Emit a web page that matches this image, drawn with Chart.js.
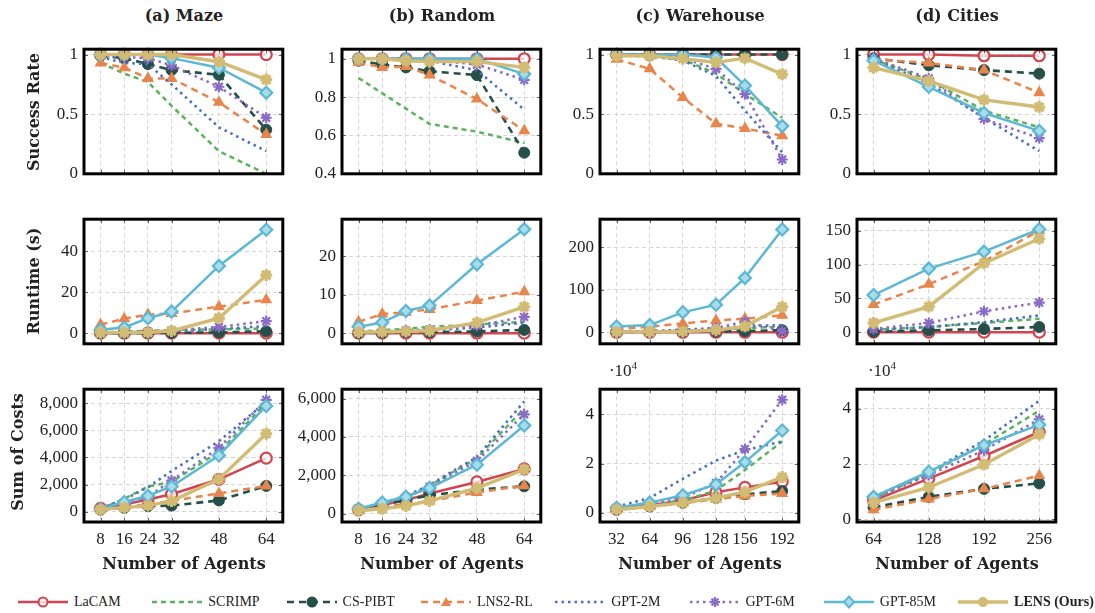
<!DOCTYPE html>
<html>
<head>
<meta charset="utf-8">
<script src="https://cdn.jsdelivr.net/npm/chart.js@4"></script>
<style>
body { margin: 0; background: #fff; width: 1095px; height: 613px; position: relative; overflow: hidden; font-family: 'Liberation Serif', serif; color: #222; }
canvas { position: absolute; }
.lbl { position: absolute; font-family: 'DejaVu Serif', serif; font-weight: bold; font-size: 16px; white-space: nowrap; transform: translate(-50%, -50%); }
.rot { transform: translate(-50%, -50%) rotate(-90deg); }
.exp { position: absolute; font-size: 17px; transform: translate(-50%, -50%); white-space: nowrap; }
.leg { position: absolute; top: 594px; height: 16px; display: flex; align-items: center; font-size: 14px; white-space: nowrap; }
.leg svg { margin-right: 6px; }
</style>
</head>
<body>
<script>
// methods, in the order of the legend
var methods = ["LaCAM", "SCRIMP", "CS-PIBT", "LNS2-RL", "GPT-2M", "GPT-6M", "GPT-85M", "LENS (Ours)"];

var agentsMaze = [8, 16, 24, 32, 48, 64];
var agentsRandom = [8, 16, 24, 32, 48, 64];
var agentsWarehouse = [32, 64, 96, 128, 156, 192];
var agentsCities = [64, 128, 192, 256];

// success rate (one row per method)
var successMaze = [
  [1, 1, 1, 1, 1, 1],
  [0.93, 0.84, 0.77, 0.57, 0.19, 0.0],
  [0.99, 0.97, 0.92, 0.87, 0.83, 0.37],
  [0.93, 0.89, 0.80, 0.80, 0.60, 0.33],
  [0.98, 0.93, 0.92, 0.75, 0.39, 0.19],
  [0.99, 0.98, 0.97, 0.91, 0.73, 0.47],
  [1, 1, 1, 0.97, 0.89, 0.68],
  [1, 1, 1, 1, 0.94, 0.79]
];
var successRandom = [
  [1, 1, 1, 1, 1, 1],
  [0.90, 0.82, 0.74, 0.66, 0.62, 0.56],
  [0.99, 0.97, 0.955, 0.935, 0.915, 0.51],
  [0.98, 0.955, 0.96, 0.915, 0.79, 0.625],
  [1, 1, 1, 0.99, 0.94, 0.735],
  [1, 1, 1, 0.995, 0.97, 0.89],
  [1, 1, 1, 1, 1, 0.92],
  [1, 1, 0.99, 0.985, 0.985, 0.955]
];
var successWarehouse = [
  [1, 1, 1, 1, 1, 1],
  [1, 0.98, 0.96, 0.84, 0.67, 0.47],
  [1, 1, 1, 1, 1, 1],
  [0.96, 0.88, 0.64, 0.42, 0.38, 0.32],
  [1, 0.99, 0.95, 0.82, 0.53, 0.18],
  [1, 1, 0.97, 0.88, 0.67, 0.12],
  [1, 1, 1, 0.975, 0.74, 0.40],
  [0.99, 0.99, 0.965, 0.935, 0.97, 0.835]
];
var successCities = [
  [1, 1, 0.99, 0.99],
  [0.96, 0.79, 0.53, 0.39],
  [0.97, 0.91, 0.87, 0.84],
  [0.96, 0.93, 0.87, 0.68],
  [0.96, 0.76, 0.47, 0.19],
  [0.97, 0.80, 0.46, 0.30],
  [0.95, 0.73, 0.51, 0.36],
  [0.89, 0.78, 0.62, 0.56]
];

// runtime in seconds
var runtimeMaze = [
  [0.1, 0.1, 0.1, 0.1, 0.1, 0.1],
  [0.5, 0.9, 1.3, 1.6, 2.0, 2.3],
  [0.1, 0.1, 0.2, 0.3, 0.5, 1.0],
  [4.3, 7.1, 9.2, 9.7, 13.0, 16.3],
  [0.2, 0.4, 0.6, 1.0, 2.0, 3.6],
  [0.3, 0.5, 0.8, 1.5, 3.1, 6.0],
  [1.8, 2.9, 7.4, 10.6, 32.8, 50.4],
  [0.3, 0.4, 0.5, 1.2, 7.4, 28.3]
];
var runtimeRandom = [
  [0.05, 0.05, 0.05, 0.05, 0.05, 0.05],
  [0.5, 0.8, 1.2, 1.7, 2.3, 3.0],
  [0.1, 0.2, 0.3, 0.3, 0.5, 0.9],
  [3.0, 5.0, 5.5, 6.2, 8.5, 10.8],
  [0.2, 0.3, 0.6, 0.8, 1.5, 2.8],
  [0.2, 0.4, 0.8, 1.0, 2.0, 4.3],
  [1.7, 2.8, 5.8, 7.2, 17.9, 27.0],
  [0.3, 0.4, 0.5, 0.7, 2.8, 6.9]
];
var runtimeWarehouse = [
  [0.2, 0.2, 0.2, 0.2, 0.2, 0.2],
  [1, 2, 4, 6, 10, 13],
  [0.5, 1, 1.5, 2, 3, 5],
  [8, 13, 21, 28, 32, 40],
  [1, 3, 6, 10, 14, 17],
  [1, 2, 4, 10, 25, 3],
  [13.7, 17, 47, 65, 128, 242],
  [1, 1, 2, 5, 14, 60]
];
var runtimeCities = [
  [0.3, 0.3, 0.3, 0.3],
  [4, 8, 14, 20],
  [1, 3, 5, 8],
  [41, 71, 105, 150],
  [3, 8, 15, 25],
  [5, 14, 31, 44],
  [55, 94, 119, 152],
  [14, 38, 102, 138]
];

// sum of costs
var socMaze = [
  [250, 530, 900, 1290, 2390, 3950],
  [200, 950, 1850, 2200, 4400, 8000],
  [150, 280, 400, 450, 830, 1900],
  [150, 330, 550, 800, 1350, 1900],
  [250, 900, 1800, 3000, 5200, 8100],
  [150, 500, 1100, 2300, 4700, 8250],
  [200, 710, 1170, 1860, 4150, 7800],
  [150, 300, 450, 780, 2400, 5750]
];
var socRandom = [
  [200, 450, 700, 1050, 1650, 2330],
  [200, 500, 850, 1450, 2900, 5480],
  [200, 450, 700, 950, 1250, 1420],
  [150, 350, 500, 650, 1100, 1450],
  [200, 550, 900, 1500, 2950, 5850],
  [200, 500, 850, 1400, 2750, 5180],
  [250, 580, 880, 1330, 2550, 4600],
  [150, 250, 400, 660, 1330, 2300]
];
var socWarehouse = [
  [1500, 3000, 5000, 8300, 10300, 12600],
  [1500, 3000, 5000, 9000, 17400, 29000],
  [1200, 2500, 4000, 6000, 7500, 8800],
  [1200, 2500, 3800, 5500, 6800, 7800],
  [2400, 6000, 13800, 21200, 25500, 29000],
  [1500, 3500, 6000, 12000, 25900, 46000],
  [2000, 4100, 7100, 11500, 20600, 33500],
  [1200, 2500, 4000, 6000, 8500, 14500]
];
var socCities = [
  [6800, 14700, 22900, 31600],
  [7500, 16500, 27100, 39300],
  [4300, 8100, 11000, 13000],
  [3400, 7300, 11000, 15800],
  [8000, 17000, 28500, 42900],
  [7500, 16000, 25000, 36200],
  [8100, 17200, 26800, 34200],
  [6000, 11500, 19800, 30700]
];

// y tick labels per row / panel
var successTicks = [0, 0.5, 1];
var successTicksRandom = [0.4, 0.6, 0.8, 1];
var runtimeTicksMaze = [0, 20, 40];
var runtimeTicksRandom = [0, 10, 20];
var runtimeTicksWarehouse = [0, 100, 200];
var runtimeTicksCities = [0, 50, 100, 150];
var socTicksMaze = [0, 2000, 4000, 6000, 8000];
var socTicksRandom = [0, 2000, 4000, 6000];
var socTicks1e4 = [0, 20000, 40000];

var titles = ["(a) Maze", "(b) Random", "(c) Warehouse", "(d) Cities"];
var rowTitles = ["Success Rate", "Runtime (s)", "Sum of Costs"];

// line styles per method
var styles = [
  { color: "#d0454f", dash: [], width: 2.5, point: "circle", r: 5.5, fill: "rgba(255,255,255,0.75)", bw: 2.2 },
  { color: "#5cb25d", dash: [5, 4], width: 2.5, point: "circle", r: 0, fill: "#5cb25d", bw: 1 },
  { color: "#25504a", dash: [7, 5], width: 2.6, point: "circle", r: 5.5, fill: "#25504a", bw: 1 },
  { color: "#e8854c", dash: [7, 5], width: 2.5, point: "triangle", r: 5.5, fill: "#e8854c", bw: 1.5 },
  { color: "#4a70c4", dash: [2.5, 4], width: 2.6, point: "circle", r: 0, fill: "#4a70c4", bw: 1 },
  { color: "#8a6cc6", dash: [2.5, 4], width: 2.6, point: "star", r: 5.5, fill: "#8a6cc6", bw: 2.2 },
  { color: "#5cb8d4", dash: [], width: 2.5, point: "rectRot", r: 6, fill: "#a9dcea", bw: 2.2 },
  { color: "#d2bb72", dash: [], width: 3.4, point: "star", r: 6, fill: "#d2bb72", bw: 3.2 }
];

var colL = [84, 342, 600, 857];
var rowT = [41, 211, 381];
var plotW = 200, plotH = 141;
var tickFont = { family: "Liberation Serif", size: 17 };

var frame = {
  id: "frame",
  afterDraw: function (c) {
    var a = c.chartArea, g = c.ctx;
    g.save();
    g.strokeStyle = "#666";
    g.lineWidth = 1;
    g.beginPath();
    c.scales.x.ticks.forEach(function (t) {
      var p = Math.round(c.scales.x.getPixelForValue(t.value)) + 0.5;
      g.moveTo(p, a.top); g.lineTo(p, a.top + 4);
      g.moveTo(p, a.bottom); g.lineTo(p, a.bottom - 4);
    });
    c.scales.y.ticks.forEach(function (t) {
      var p = Math.round(c.scales.y.getPixelForValue(t.value)) + 0.5;
      g.moveTo(a.left, p); g.lineTo(a.left + 4, p);
      g.moveTo(a.right, p); g.lineTo(a.right - 4, p);
    });
    g.stroke();
    g.strokeStyle = "#000";
    g.lineWidth = 3;
    g.strokeRect(a.left, a.top, a.right - a.left, a.bottom - a.top);
    g.restore();
  }
};

function panel(col, row, xs, series, xMin, xMax, yMin, yMax, yTicks, fmt) {
  var bottom = row === 2;
  var B = bottom ? 40 : 8;
  var cv = document.createElement("canvas");
  cv.width = plotW + 70;
  cv.height = plotH + 8 + B;
  cv.style.left = (colL[col] - 62) + "px";
  cv.style.top = (rowT[row] - 8) + "px";
  document.body.appendChild(cv);

  var datasets = series.map(function (vals, i) {
    var s = styles[i];
    return {
      label: methods[i],
      data: xs.map(function (x, j) { return { x: x, y: vals[j] }; }),
      borderColor: s.color,
      borderWidth: s.width,
      borderDash: s.dash,
      pointStyle: s.point,
      pointRadius: s.r,
      pointBackgroundColor: s.fill,
      pointBorderColor: s.color,
      pointBorderWidth: s.bw,
      tension: 0,
      fill: false,
      clip: false,
      order: methods.length - i
    };
  });

  new Chart(cv.getContext("2d"), {
    type: "line",
    data: { datasets: datasets },
    options: {
      responsive: false,
      animation: false,
      devicePixelRatio: 1,
      layout: { padding: { left: 0, top: 8, right: 8, bottom: 0 } },
      plugins: { legend: { display: false }, tooltip: { enabled: false } },
      scales: {
        x: {
          type: "linear", min: xMin, max: xMax,
          afterBuildTicks: function (s) { s.ticks = xs.map(function (v) { return { value: v }; }); },
          afterFit: function (s) { s.height = B; },
          grid: { color: "#d6d6d6", drawTicks: false, lineWidth: 1 },
          border: { display: false, dash: [4, 3] },
          ticks: { display: bottom, padding: 7, autoSkip: false, maxRotation: 0, color: "#222", font: tickFont,
                   callback: function (v) { return String(v); } }
        },
        y: {
          min: yMin, max: yMax,
          afterBuildTicks: function (s) { s.ticks = yTicks.map(function (v) { return { value: v }; }); },
          afterFit: function (s) { s.width = 62; },
          grid: { color: "#d6d6d6", drawTicks: false, lineWidth: 1 },
          border: { display: false, dash: [4, 3] },
          ticks: { padding: 6, color: "#222", font: tickFont, callback: fmt }
        }
      }
    },
    plugins: [frame]
  });
}

var plain = function (v) { return String(v); };
var thousands = function (v) { return v.toLocaleString("en-US"); };
var e4 = function (v) { return String(v / 10000); };

panel(0, 0, agentsMaze, successMaze, 2.4, 69.6, 0, 1.045, successTicks, plain);
panel(1, 0, agentsRandom, successRandom, 2.4, 69.6, 0.4, 1.05, successTicksRandom, plain);
panel(2, 0, agentsWarehouse, successWarehouse, 16, 208, 0, 1.045, successTicks, plain);
panel(3, 0, agentsCities, successCities, 44.8, 275.2, 0, 1.045, successTicks, plain);

panel(0, 1, agentsMaze, runtimeMaze, 2.4, 69.6, -5.05, 55.5, runtimeTicksMaze, plain);
panel(1, 1, agentsRandom, runtimeRandom, 2.4, 69.6, -2.7, 29.6, runtimeTicksRandom, plain);
panel(2, 1, agentsWarehouse, runtimeWarehouse, 16, 208, -27, 266, runtimeTicksWarehouse, plain);
panel(3, 1, agentsCities, runtimeCities, 44.8, 275.2, -16.8, 166.8, runtimeTicksCities, plain);

panel(0, 2, agentsMaze, socMaze, 2.4, 69.6, -760, 9034, socTicksMaze, thousands);
panel(1, 2, agentsRandom, socRandom, 2.4, 69.6, -440, 6490, socTicksRandom, thousands);
panel(2, 2, agentsWarehouse, socWarehouse, 16, 208, -3800, 50300, socTicks1e4, e4);
panel(3, 2, agentsCities, socCities, 44.8, 275.2, -1000, 47100, socTicks1e4, e4);

// text around the grid
function label(text, x, y, cls) {
  var d = document.createElement("div");
  d.className = cls;
  d.innerHTML = text;
  d.style.left = x + "px";
  d.style.top = y + "px";
  document.body.appendChild(d);
}
titles.forEach(function (t, i) {
  label(t, colL[i] + plotW / 2, 15, "lbl");
  label("Number of Agents", colL[i] + plotW / 2, 563, "lbl");
});
label(rowTitles[0], 33, 112, "lbl rot");
label(rowTitles[1], 33, 281, "lbl rot");
label(rowTitles[2], 17, 452, "lbl rot");
label("&middot;10<sup style='font-size:11px'>4</sup>", 623, 370, "exp");
label("&middot;10<sup style='font-size:11px'>4</sup>", 882, 370, "exp");

// legend
function markerSvg(s) {
  var c = s.color, m = "";
  if (s.r > 0) {
    if (s.point === "circle") m = "<circle cx='25' cy='8' r='4.5' fill='" + s.fill + "' stroke='" + c + "' stroke-width='2'/>";
    if (s.point === "triangle") m = "<polygon points='25,3 30,12 20,12' fill='" + s.fill + "'/>";
    if (s.point === "rectRot") m = "<polygon points='25,2.5 30,8 25,13.5 20,8' fill='" + s.fill + "' stroke='" + c + "' stroke-width='2'/>";
    if (s.point === "star") m = "<path d='M25 3 V13 M20 8 H30 M21.5 4.5 L28.5 11.5 M28.5 4.5 L21.5 11.5' stroke='" + c + "' stroke-width='" + s.bw + "'/>";
  }
  return "<svg width='50' height='16'><line x1='0' y1='8' x2='50' y2='8' stroke='" + c + "' stroke-width='" + s.width +
    "' stroke-dasharray='" + (s.dash.length ? s.dash.join(",") : "none") + "'/>" + m + "</svg>";
}
methods.forEach(function (m, i) {
  var d = document.createElement("div");
  d.className = "leg";
  d.style.left = (18 + 134.3 * i) + "px";
  var name = i === methods.length - 1 ? "<b>" + m + "</b>" : m;
  d.innerHTML = markerSvg(styles[i]) + "<span>" + name + "</span>";
  document.body.appendChild(d);
});
</script>
</body>
</html>
